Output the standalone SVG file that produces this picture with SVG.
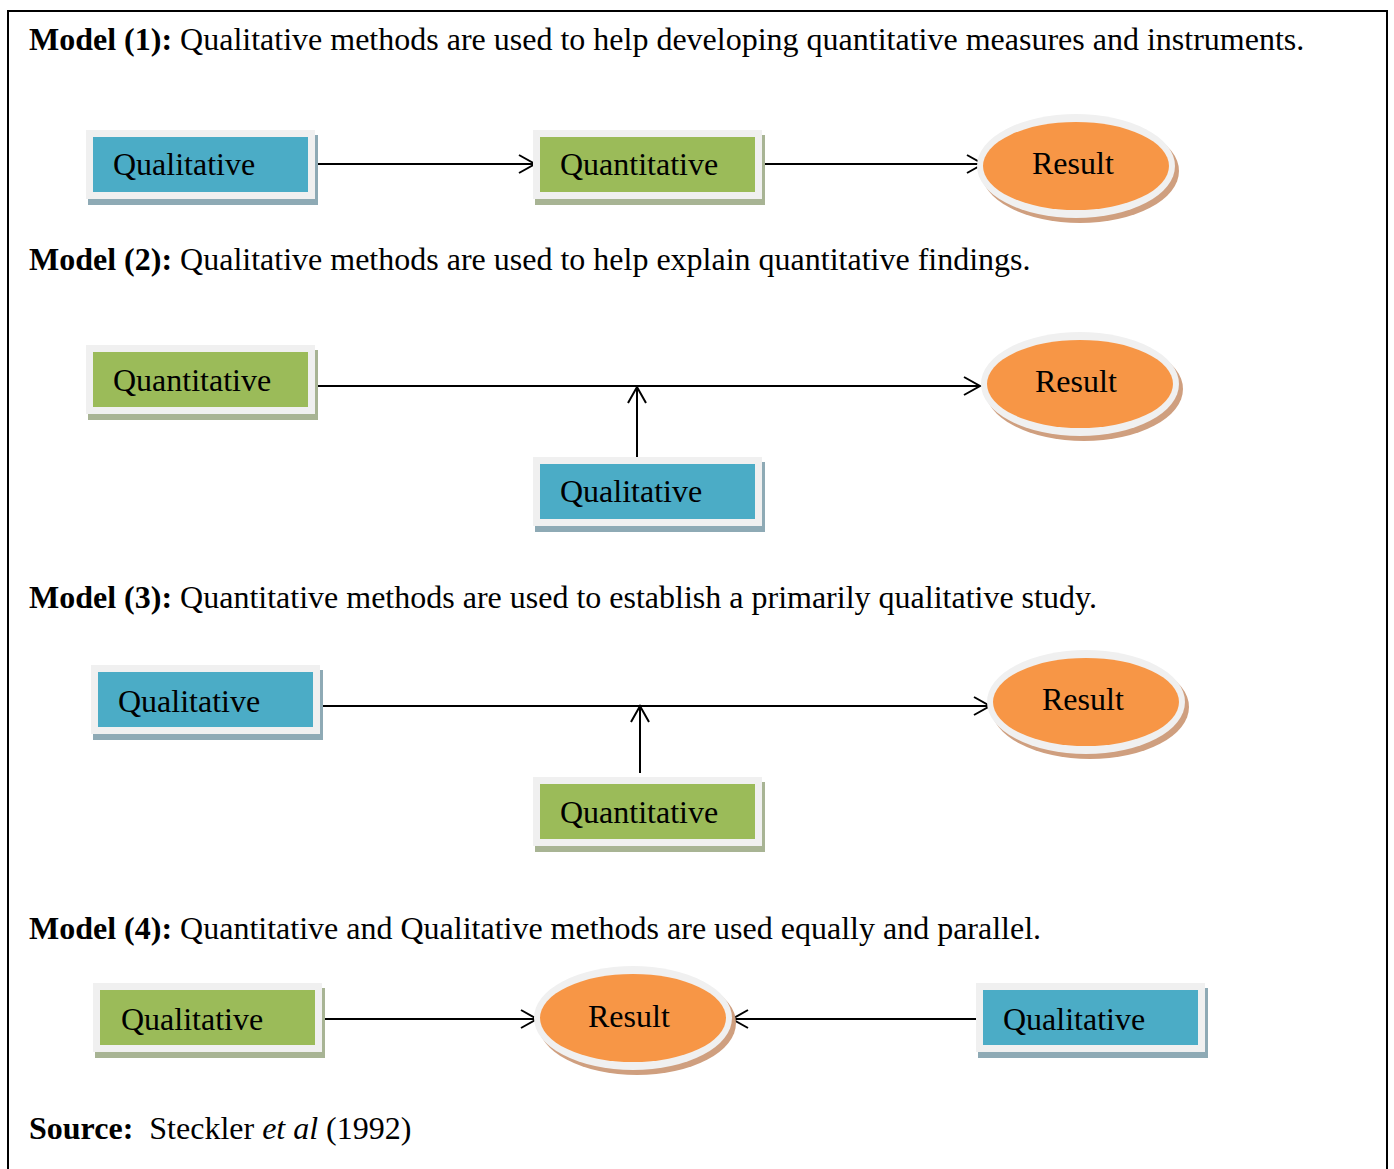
<svg xmlns="http://www.w3.org/2000/svg" width="1394" height="1169" viewBox="0 0 1394 1169">
  <style>
    .txt { font-family: "Liberation Serif", "Times New Roman", serif; font-size: 32px; fill: #000; }
    .b { font-weight: bold; }
    .i { font-style: italic; }
    .frame { fill: #f0f0f0; }
    .qual { fill: #4bacc6; }
    .quan { fill: #9bbb59; }
    .sh-qual { fill: #8eaab5; }
    .sh-quan { fill: #a8b494; }
    .res { fill: #f79646; }
    .sh-res { fill: #cf9f7f; }
    .conn { stroke: #000; stroke-width: 2; fill: none; marker-end: url(#open); }
  </style>
  <defs>
    <marker id="open" markerUnits="userSpaceOnUse" markerWidth="24" markerHeight="24" viewBox="-20 -12 24 24" refX="0" refY="0" orient="auto" overflow="visible">
      <path d="M -16 -9 L 0 0 L -16 9" fill="none" stroke="#000" stroke-width="2"/>
    </marker>
    <!-- reusable node shapes -->
    <g id="boxQual">
      <rect class="sh-qual" x="2" y="5" width="230" height="70"/>
      <rect class="frame" x="0" y="0" width="229" height="69"/>
      <rect class="qual" x="7" y="7" width="215" height="55"/>
    </g>
    <g id="boxQuan">
      <rect class="sh-quan" x="2" y="5" width="230" height="70"/>
      <rect class="frame" x="0" y="0" width="229" height="69"/>
      <rect class="quan" x="7" y="7" width="215" height="55"/>
    </g>
    <g id="ell">
      <ellipse class="sh-res" cx="4" cy="5" rx="99" ry="52"/>
      <ellipse class="frame" cx="0" cy="0" rx="99" ry="52"/>
      <ellipse class="res" cx="0" cy="0" rx="93" ry="44"/>
    </g>
  </defs>

  <rect x="8" y="11" width="1379" height="1180" fill="#fff" stroke="#000" stroke-width="2"/>

  <!-- headings -->
  <g id="headings">
    <text class="txt" x="29" y="50"><tspan class="b">Model (1):</tspan> Qualitative methods are used to help developing quantitative measures and instruments.</text>
    <text class="txt" x="29" y="270"><tspan class="b">Model (2):</tspan> Qualitative methods are used to help explain quantitative findings.</text>
    <text class="txt" x="29" y="608"><tspan class="b">Model (3):</tspan> Quantitative methods are used to establish a primarily qualitative study.</text>
    <text class="txt" x="29" y="939"><tspan class="b">Model (4):</tspan> Quantitative and Qualitative methods are used equally and parallel.</text>
    <text class="txt" x="29" y="1139" xml:space="preserve"><tspan class="b">Source:</tspan>  Steckler <tspan class="i">et al</tspan> (1992)</text>
  </g>

  <!-- connectors -->
  <g id="connectors">
    <line class="conn" x1="313" y1="164" x2="535" y2="164"/>
    <line class="conn" x1="760" y1="164" x2="983" y2="164"/>
    <line class="conn" x1="313" y1="386" x2="980" y2="386"/>
    <line class="conn" x1="637" y1="458" x2="637" y2="387"/>
    <line class="conn" x1="318" y1="706" x2="990" y2="706"/>
    <line class="conn" x1="640" y1="773" x2="640" y2="706"/>
    <line class="conn" x1="320" y1="1019" x2="537" y2="1019"/>
    <line class="conn" x1="980" y1="1019" x2="732" y2="1019"/>
  </g>

  <!-- model 1 -->
  <g id="m1-qual"><use href="#boxQual" x="86" y="130"/><text class="txt" x="113" y="175">Qualitative</text></g>
  <g id="m1-quan"><use href="#boxQuan" x="533" y="130"/><text class="txt" x="560" y="175">Quantitative</text></g>
  <g id="m1-result"><use href="#ell" x="1076" y="166"/><text class="txt" x="1032" y="174">Result</text></g>

  <!-- model 2 -->
  <g id="m2-quan"><use href="#boxQuan" x="86" y="345"/><text class="txt" x="113" y="391">Quantitative</text></g>
  <g id="m2-result"><use href="#ell" x="1080" y="384"/><text class="txt" x="1035" y="392">Result</text></g>
  <g id="m2-qual"><use href="#boxQual" x="533" y="457"/><text class="txt" x="560" y="502">Qualitative</text></g>

  <!-- model 3 -->
  <g id="m3-qual"><use href="#boxQual" x="91" y="665"/><text class="txt" x="118" y="712">Qualitative</text></g>
  <g id="m3-result"><use href="#ell" x="1086" y="702"/><text class="txt" x="1042" y="710">Result</text></g>
  <g id="m3-quan"><use href="#boxQuan" x="533" y="777"/><text class="txt" x="560" y="823">Quantitative</text></g>

  <!-- model 4 -->
  <g id="m4-left"><use href="#boxQuan" x="93" y="983"/><text class="txt" x="121" y="1030">Qualitative</text></g>
  <g id="m4-result"><use href="#ell" x="633" y="1018"/><text class="txt" x="588" y="1027">Result</text></g>
  <g id="m4-right"><use href="#boxQual" x="976" y="983"/><text class="txt" x="1003" y="1030">Qualitative</text></g>
</svg>
